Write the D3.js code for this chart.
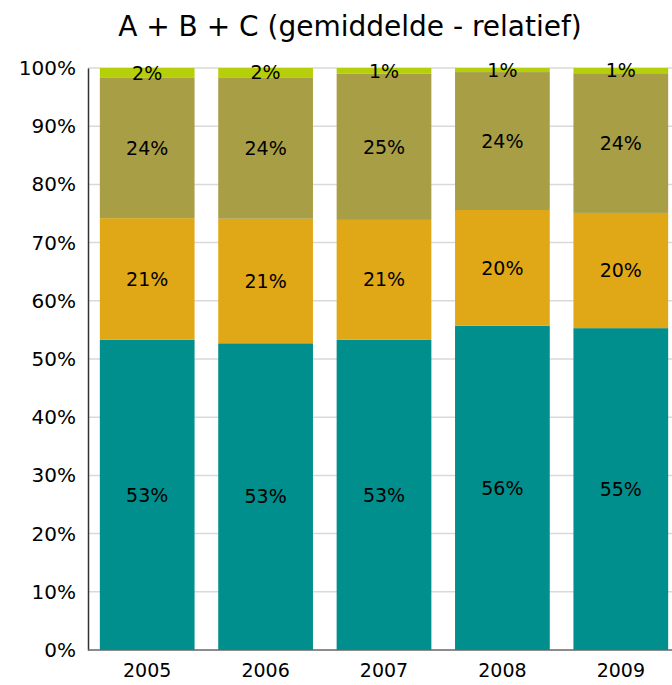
<!DOCTYPE html>
<html>
<head>
<meta charset="utf-8">
<script src="https://cdn.jsdelivr.net/npm/d3@7"></script>
<style>
  body { margin: 0; background: #fff; }
  svg { font-family: "DejaVu Sans", Verdana, sans-serif; }
</style>
</head>
<body>
<div id="chart"></div>
<script>
// data (percent of total)
let years = ['2005', '2006', '2007', '2008', '2009'];
let serieA = [53.3, 52.7, 53.3, 55.7, 55.3];
let serieB = [20.9, 21.4, 20.6, 19.9, 19.8];
let serieC = [24.1, 24.3, 25.1, 23.7, 24.0];
let serieD = [1.7, 1.6, 1.0, 0.7, 0.9];
let yTicks = [0, 10, 20, 30, 40, 50, 60, 70, 80, 90, 100];
let colors = ['#008f8c', '#e0a817', '#a89e45', '#b5cf0b'];

let width = 672, height = 685;
let margin = {top: 68, right: -8, bottom: 35, left: 88};

let svg = d3.select('#chart').append('svg')
    .attr('width', width)
    .attr('height', height);

let x = d3.scaleBand()
    .domain(years)
    .range([margin.left, width - margin.right])
    .paddingInner(0.2)
    .paddingOuter(0.1);

let y = d3.scaleLinear()
    .domain([0, 100])
    .range([height - margin.bottom, margin.top]);

// gridlines
svg.append('g')
  .selectAll('line')
  .data(yTicks.slice(1))
  .enter().append('line')
    .attr('x1', margin.left)
    .attr('x2', width)
    .attr('y1', d => y(d))
    .attr('y2', d => y(d))
    .style('stroke', '#d9d9d9')
    .style('stroke-width', 1.5);

// stacked data
let rows = years.map(function(yr, i) {
  return {year: yr, A: serieA[i], B: serieB[i], C: serieC[i], D: serieD[i]};
});
let stack = d3.stack().keys(['A', 'B', 'C', 'D']);
let layers = stack(rows);

let groups = svg.append('g')
  .selectAll('g')
  .data(layers)
  .enter().append('g')
    .attr('fill', (d, i) => colors[i]);

groups.selectAll('rect')
  .data(d => d)
  .enter().append('rect')
    .attr('x', d => x(d.data.year))
    .attr('width', x.bandwidth())
    .attr('y', d => y(d[1]))
    .attr('height', d => y(d[0]) - y(d[1]));

groups.selectAll('text')
  .data(d => d)
  .enter().append('text')
    .attr('x', d => x(d.data.year) + x.bandwidth() / 2)
    .attr('y', d => (y(d[0]) + y(d[1])) / 2)
    .attr('dy', '0.35em')
    .attr('text-anchor', 'middle')
    .style('font-size', '19px')
    .style('fill', '#000')
    .text(d => Math.round(d[1] - d[0]) + '%');

// y axis
let yAxis = svg.append('g')
    .attr('transform', 'translate(' + margin.left + ',0)')
    .call(d3.axisLeft(y).tickValues(yTicks).tickFormat(d => d + '%').tickSize(0).tickPadding(12));
yAxis.attr('font-family', null).attr('font-size', null);
yAxis.select('.domain').style('stroke', '#333').style('stroke-width', 1.5);
yAxis.selectAll('text').style('font-size', '20px').style('fill', '#000');

// x axis
let xAxis = svg.append('g')
    .attr('transform', 'translate(0,' + y(0) + ')')
    .call(d3.axisBottom(x).tickSize(0).tickPadding(14));
xAxis.attr('font-family', null).attr('font-size', null);
xAxis.select('.domain').attr('d', 'M' + margin.left + ',0H' + width).style('stroke', '#666').style('stroke-width', 1.5);
xAxis.selectAll('text').style('font-size', '19px').style('fill', '#000');

// title
svg.append('text')
    .attr('x', 350)
    .attr('y', 36)
    .attr('text-anchor', 'middle')
    .style('font-size', '28px')
    .style('fill', '#000')
    .text('A + B + C (gemiddelde - relatief)');
</script>
</body>
</html>
